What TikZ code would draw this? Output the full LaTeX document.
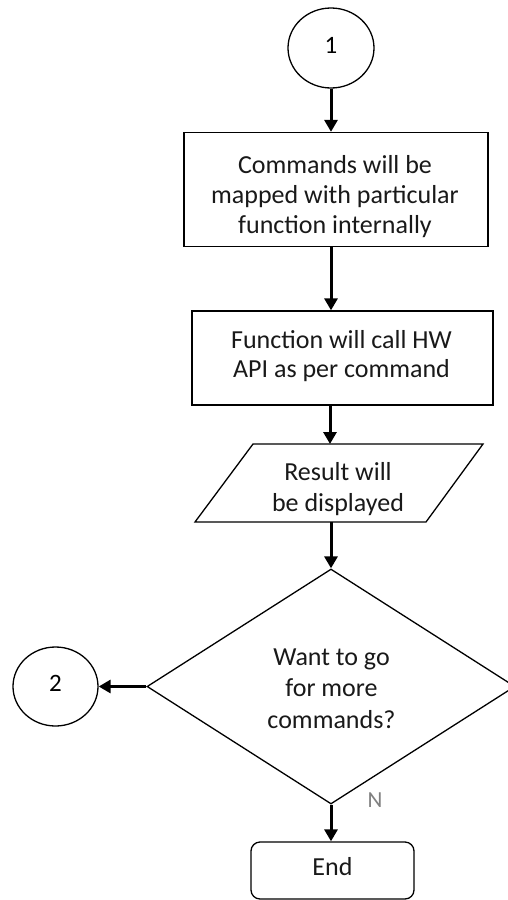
\documentclass[tikz,border=0pt]{standalone}
\usepackage{fontspec}
\setmainfont{Carlito}
\usetikzlibrary{arrows.meta,shapes.geometric}
\begin{document}
\begin{tikzpicture}[x=1pt,y=-1pt,
  outline/.style={draw=black, line width=1.3pt, inner sep=0pt},
  connector/.style={ellipse, outline, minimum width=86pt, minimum height=80pt,
    font=\fontsize{25}{30}\selectfont, text height=16pt, text depth=6pt},
  process/.style={rectangle, outline},
  flowarrow/.style={line width=3pt, -{Triangle[length=12pt,width=13pt]}},
  txt/.style={align=center, inner sep=0pt, text=black!90}
]
\useasboundingbox (0,0) rectangle (507,900);

% connector "1" and the two process boxes
\node[connector] (c1) at (331,48) {1};
\node[process, minimum width=304pt, minimum height=114pt] (b1) at (336,189.5) {};
\node[txt, font=\fontsize{26}{30}\selectfont] (t1) at (335,197)
  {\strut Commands will be\\ mapped with particular\\ function internally\strut};

\node[process, minimum width=301pt, minimum height=94pt] (b2) at (342.5,358) {};
\node[txt, font=\fontsize{26}{29}\selectfont] (t2) at (341.5,356.7)
  {\strut Function will call HW\\ API as per command\strut};

% output parallelogram
\draw[line width=1.3pt, line join=miter] (195,522) -- (253,444) -- (483,444) -- (426,522) -- cycle;
\coordinate (ioN) at (330,444);
\coordinate (ioS) at (331,522);
\node[txt, font=\fontsize{26}{31}\selectfont] (t3) at (338,489.3)
  {\strut Result will\\ be displayed\strut};

% decision
\node[diamond, outline, minimum width=368pt, minimum height=235pt] (dec) at (331,686.5) {};
\node[txt, font=\fontsize{26}{31.5}\selectfont] (t4) at (331.5,690.2)
  {\strut Want to go\\ for more\\ commands?\strut};

% exits
\node[connector, minimum width=85pt, minimum height=79pt] (c2) at (55.5,686.5) {2};
\node[rectangle, rounded corners=9pt, draw=black, line width=1.3pt, inner sep=0pt,
  minimum width=163pt, minimum height=57pt, font=\fontsize{26}{30}\selectfont,
  text=black!90, text height=18pt, text depth=9pt] (endb) at (332.5,870.5) {End};
\node[inner sep=0pt, text=black!50, font=\fontsize{23}{28}\selectfont] (nlab) at (375,800) {N};

% connectors
\draw[flowarrow] (c1.south) -- (c1.south |- b1.north);
\draw[flowarrow] (b1.south -| c1.center) -- (b2.north -| c1.center);
\draw[flowarrow] (b2.south -| ioN) -- (ioN);
\draw[flowarrow] (ioS) -- (dec.north);
\draw[flowarrow] (dec.west) -- (c2.east);
\draw[flowarrow] (dec.south) -- (dec.south |- endb.north);
\end{tikzpicture}
\end{document}
